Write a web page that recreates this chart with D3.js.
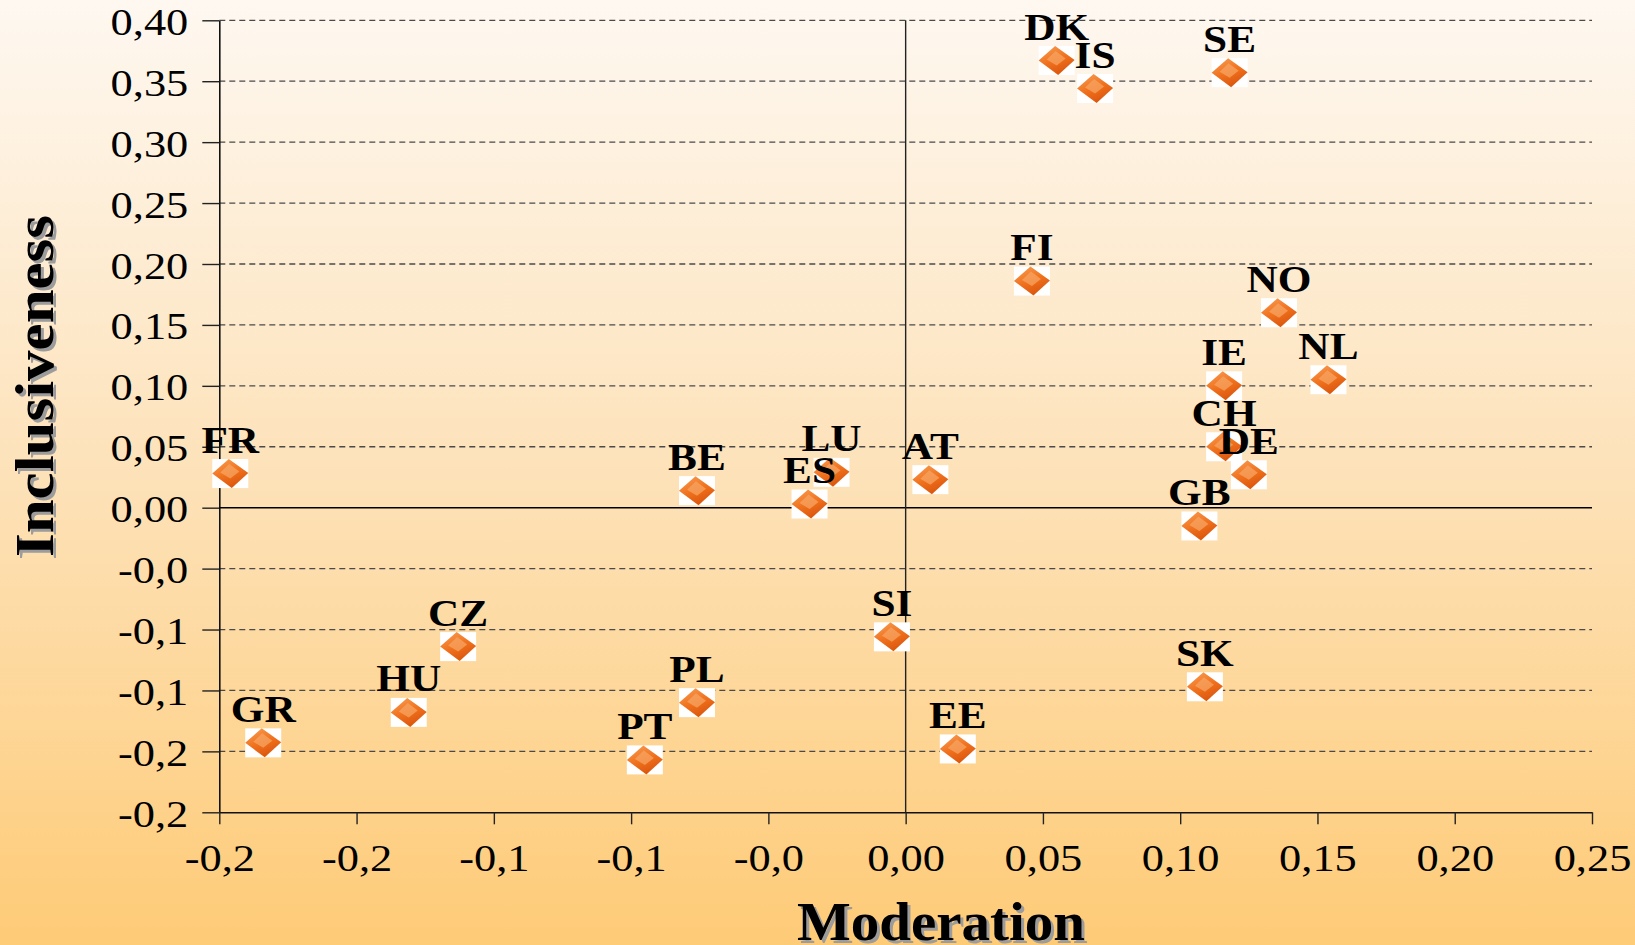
<!DOCTYPE html>
<html>
<head>
<meta charset="utf-8">
<script src="https://cdn.jsdelivr.net/npm/d3@7"></script>
<style>
	body { margin: 0; }
	svg { display: block; }
</style>
</head>
<body>
<script>
(function () {
	"use strict";

	// country codes with their scores
	const countries = ["DK", "IS", "SE", "FI", "NO", "NL", "IE", "CH", "DE", "GB", "FR", "BE",
		"ES", "LU", "AT", "SI", "SK", "EE", "CZ", "HU", "GR", "PL", "PT"];
	const moderation = [0.055, 0.069, 0.118, 0.046, 0.136, 0.154, 0.116, 0.116, 0.125, 0.107, -0.246, -0.076,
		-0.035, -0.027, 0.009, -0.005, 0.109, 0.019, -0.163, -0.181, -0.234, -0.076, -0.095];
	const inclusiveness = [0.367, 0.344, 0.357, 0.186, 0.160, 0.105, 0.100, 0.050, 0.027, -0.015, 0.028, 0.014,
		0.003, 0.029, 0.023, -0.106, -0.147, -0.198, -0.114, -0.168, -0.193, -0.160, -0.207];

	const xTicks = [-0.25, -0.20, -0.15, -0.10, -0.05, 0, 0.05, 0.10, 0.15, 0.20, 0.25];
	const xTickLabels = ["-0,2", "-0,2", "-0,1", "-0,1", "-0,0", "0,00", "0,05", "0,10", "0,15", "0,20", "0,25"];
	const yTicks = [0.40, 0.35, 0.30, 0.25, 0.20, 0.15, 0.10, 0.05, 0, -0.05, -0.10, -0.15, -0.20, -0.25];
	const yTickLabels = ["0,40", "0,35", "0,30", "0,25", "0,20", "0,15", "0,10", "0,05", "0,00",
		"-0,0", "-0,1", "-0,1", "-0,2", "-0,2"];

	let w = 1635;
	let h = 945;

	let x = d3.scaleLinear().domain([-0.25, 0.25]).range([219.3, 1592]);
	let y = d3.scaleLinear().domain([-0.25, 0.40]).range([812.3, 20.3]);

	let svg = d3.select('body').append('svg').attr('width', w).attr('height', h);
	let defs = svg.append('defs');

	let bg = defs.append('linearGradient').attr('id', 'bg')
		.attr('x1', 0).attr('y1', 0).attr('x2', 0).attr('y2', 1);
	bg.append('stop').attr('offset', '0%').attr('stop-color', '#fef8f1');
	bg.append('stop').attr('offset', '50%').attr('stop-color', '#fde2b9');
	bg.append('stop').attr('offset', '100%').attr('stop-color', '#fecb77');

	let gem = defs.append('linearGradient').attr('id', 'gem')
		.attr('x1', 0.2).attr('y1', 0).attr('x2', 0.7).attr('y2', 1);
	gem.append('stop').attr('offset', '0%').attr('stop-color', '#f89a4e');
	gem.append('stop').attr('offset', '50%').attr('stop-color', '#f0711e');
	gem.append('stop').attr('offset', '100%').attr('stop-color', '#d8520a');

	let blur = defs.append('filter').attr('id', 'soft');
	blur.append('feGaussianBlur').attr('stdDeviation', 0.7);

	svg.append('rect').attr('width', w).attr('height', h).attr('fill', 'url(#bg)');

	// stretch text sideways like the original
	function stretch(sel, k) {
		sel.each(function () {
			let len = this.getComputedTextLength();
			d3.select(this).attr('textLength', len * k).attr('lengthAdjust', 'spacingAndGlyphs');
		});
	}

	// dashed grid
	svg.append('g')
		.selectAll('line')
		.data(yTicks.filter((v) => v !== 0 && v !== -0.25))
		.enter()
		.append('line')
		.attr('x1', x(-0.25)).attr('x2', x(0.25))
		.attr('y1', (d) => y(d)).attr('y2', (d) => y(d))
		.attr('stroke', '#4a4a4a')
		.attr('stroke-width', 1.3)
		.attr('stroke-dasharray', '6,4');

	// axes
	let yAxis = svg.append('g')
		.attr('transform', 'translate(' + x(-0.25) + ',0)')
		.call(d3.axisLeft(y).tickValues(yTicks)
			.tickFormat((d, i) => yTickLabels[i])
			.tickSizeInner(17).tickSizeOuter(0).tickPadding(14));

	let xAxis = svg.append('g')
		.attr('transform', 'translate(0,' + y(-0.25) + ')')
		.call(d3.axisBottom(x).tickValues(xTicks)
			.tickFormat((d, i) => xTickLabels[i])
			.tickSizeInner(12).tickSizeOuter(0).tickPadding(20));

	[yAxis, xAxis].forEach(function (g) {
		g.select('.domain').attr('stroke', '#111').attr('stroke-width', 1.6);
		g.selectAll('.tick line').attr('stroke', '#222').attr('stroke-width', 1.4);
		g.selectAll('.tick text')
			.attr('fill', '#000')
			.style('font-family', '"Liberation Serif", serif')
			.style('font-size', '37px');
	});
	yAxis.selectAll('.tick text').attr('dy', '0.38em');
	stretch(yAxis.selectAll('.tick text'), 1.2);
	stretch(xAxis.selectAll('.tick text'), 1.2);

	// zero lines
	svg.append('line')
		.attr('x1', x(-0.25)).attr('x2', x(0.25))
		.attr('y1', y(0)).attr('y2', y(0))
		.attr('stroke', '#000').attr('stroke-width', 1.6);
	svg.append('line')
		.attr('x1', x(0)).attr('x2', x(0))
		.attr('y1', y(0.40)).attr('y2', y(-0.25))
		.attr('stroke', '#222').attr('stroke-width', 1.4);

	let points = countries.map((c, i) => ({ name: c, mx: moderation[i], iy: inclusiveness[i] }));

	// markers
	let marks = svg.append('g')
		.selectAll('g')
		.data(points)
		.enter()
		.append('g')
		.attr('transform', (d) => 'translate(' + x(d.mx) + ',' + y(d.iy) + ')');

	marks.append('rect')
		.attr('x', -18).attr('y', -14.5)
		.attr('width', 36).attr('height', 29)
		.attr('fill', '#fff');
	marks.append('polygon')
		.attr('points', '-18,0 -1.5,-14.5 18,-0.5 1.5,14.5')
		.attr('fill', 'url(#gem)')
		.attr('filter', 'url(#soft)');
	marks.append('polygon')
		.attr('points', '-10,-1 -1,-9.5 9,-2 0,5')
		.attr('fill', '#f7a462')
		.attr('opacity', 0.75)
		.attr('filter', 'url(#soft)');

	// labels above markers
	let labels = svg.append('g')
		.selectAll('text')
		.data(points)
		.enter()
		.append('text')
		.attr('x', (d) => x(d.mx))
		.attr('y', (d) => y(d.iy) - 21)
		.attr('text-anchor', 'middle')
		.style('font-family', '"Liberation Serif", serif')
		.style('font-weight', 'bold')
		.style('font-size', '38px')
		.attr('fill', '#000')
		.text((d) => d.name);
	stretch(labels, 1.14);

	// axis titles with drop shadow
	function title(txt, tx, ty, rot, len) {
		[['#9c9c9c', 3], ['#000', 0]].forEach(function (s) {
			svg.append('text')
				.attr('transform', 'translate(' + (tx + s[1]) + ',' + (ty + s[1]) + ') rotate(' + rot + ')')
				.attr('text-anchor', 'middle')
				.attr('textLength', len)
				.attr('lengthAdjust', 'spacingAndGlyphs')
				.style('font-family', '"Liberation Serif", serif')
				.style('font-weight', 'bold')
				.style('font-size', '55px')
				.attr('fill', s[0])
				.text(txt);
		});
	}
	title('Moderation', 941, 940, 0, 288);
	title('Inclusiveness', 53, 386, -90, 342);

})();
</script>
</body>
</html>
